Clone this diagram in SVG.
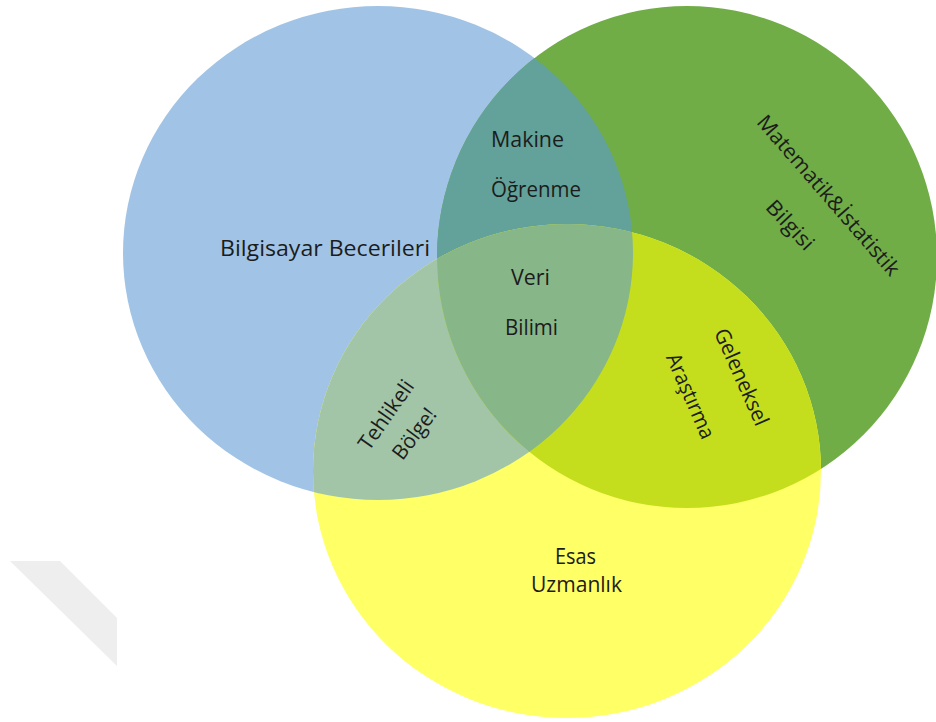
<svg xmlns="http://www.w3.org/2000/svg" width="936" height="722" viewBox="0 0 936 722">
<style>
.lbl{font-family:"Open Sans","Liberation Sans",sans-serif;font-size:21px;fill:#1c1c1c}
.mid{text-anchor:middle}
</style>
<defs>
<clipPath id="cB"><ellipse cx="378" cy="253" rx="255" ry="247"/></clipPath>
<clipPath id="cG"><ellipse cx="687" cy="257" rx="250" ry="251"/></clipPath>
</defs>
<rect width="936" height="722" fill="#ffffff"/>
<polygon points="10,561 60,561 117,618 117,666" fill="#eeeeee"/>
<g id="set-bilgisayar">
<ellipse cx="378" cy="253" rx="255" ry="247" fill="#a1c4e6"/>
</g>
<g id="set-matematik">
<ellipse cx="687" cy="257" rx="250" ry="251" fill="#70ad47"/>
</g>
<g id="set-esas">
<ellipse cx="567" cy="471" rx="254" ry="247" fill="#ffff66"/>
</g>
<g id="region-makine">
<ellipse cx="687" cy="257" rx="250" ry="251" fill="#62a29a" clip-path="url(#cB)"/>
</g>
<g id="region-tehlikeli">
<ellipse cx="567" cy="471" rx="254" ry="247" fill="#a2c5a8" clip-path="url(#cB)"/>
</g>
<g id="region-geleneksel">
<ellipse cx="567" cy="471" rx="254" ry="247" fill="#c4de1e" clip-path="url(#cG)"/>
</g>
<g id="region-veri" clip-path="url(#cB)">
<ellipse cx="567" cy="471" rx="254" ry="247" fill="#87b689" clip-path="url(#cG)"/>
</g>
<g id="labels">
<text class="lbl" x="220" y="256" textLength="210" lengthAdjust="spacingAndGlyphs">Bilgisayar Becerileri</text>
<text class="lbl" x="491" y="147" textLength="73" lengthAdjust="spacingAndGlyphs">Makine</text>
<text class="lbl" x="491" y="197" textLength="90" lengthAdjust="spacingAndGlyphs">Öğrenme</text>
<text class="lbl" x="511" y="285" textLength="39" lengthAdjust="spacingAndGlyphs">Veri</text>
<text class="lbl" x="505" y="335" textLength="53" lengthAdjust="spacingAndGlyphs">Bilimi</text>
<text class="lbl" x="555" y="564" textLength="41" lengthAdjust="spacingAndGlyphs">Esas</text>
<text class="lbl" x="531" y="592" textLength="91" lengthAdjust="spacingAndGlyphs">Uzmanlık</text>
<text class="lbl mid" transform="translate(823,200) rotate(49)" textLength="205" lengthAdjust="spacingAndGlyphs">Matematik&amp;İstatistik</text>
<text class="lbl mid" transform="translate(785,230) rotate(47)" textLength="60" lengthAdjust="spacingAndGlyphs">Bilgisi</text>
<text class="lbl mid" transform="translate(735,380) rotate(66)" textLength="104" lengthAdjust="spacingAndGlyphs">Geleneksel</text>
<text class="lbl mid" transform="translate(684,399) rotate(66.5)" textLength="91" lengthAdjust="spacingAndGlyphs">Araştırma</text>
<text class="lbl mid" transform="translate(392,419) rotate(-55)" textLength="80" lengthAdjust="spacingAndGlyphs">Tehlikeli</text>
<text class="lbl mid" transform="translate(420,438) rotate(-53)" textLength="58" lengthAdjust="spacingAndGlyphs">Bölge!</text>
</g>
<g id="connectors"/>
</svg>
